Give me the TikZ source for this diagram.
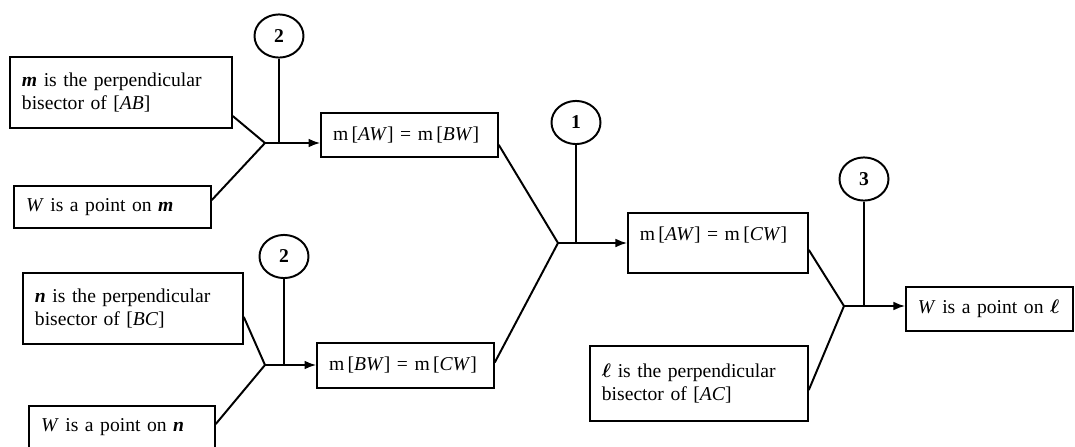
\documentclass[tikz,border=0pt]{standalone}
\usepackage{amsmath}
\usepackage{fontspec}
\setmainfont{Liberation Serif}
\usetikzlibrary{arrows.meta,shapes.geometric}
\begin{document}
\begin{tikzpicture}[x=0.51pt, y=-0.51pt, >={Latex[length=6pt,width=4.5pt]},
    stmt/.style={draw, line width=1pt, align=left, inner xsep=6pt, inner ysep=0pt},
    reason/.style={draw, ellipse, line width=1pt, minimum width=25pt, minimum height=22pt, inner sep=0pt, font=\bfseries},
    link/.style={line width=1pt}]

    % Khung trang
    \useasboundingbox (0,0) rectangle (1075,446);

    % Các mệnh đề bên trái (nhánh trên)
    \node[stmt, text width=101pt, minimum height=36.2pt] (mAB) at (121,92.5)
        {\textbf{\textit{m}} is the perpendicular\\bisector of [\textit{AB}]};
    \node[stmt, text width=88.2pt, minimum height=21.4pt] (Wm) at (112.5,207)
        {\textit{W} is a point on \textbf{\textit{m}}};

    % Các mệnh đề bên trái (nhánh dưới)
    \node[stmt, text width=100pt, minimum height=36.2pt] (nBC) at (133,308.5)
        {\textbf{\textit{n}} is the perpendicular\\bisector of [\textit{BC}]};
    \node[stmt, text width=82.6pt, minimum height=21.4pt] (Wn) at (122,427)
        {\textit{W} is a point on \textbf{\textit{n}}};

    % Kết luận trung gian
    \node[stmt, text width=78pt, minimum height=22.4pt] (AWBW) at (409.5,135)
        {m\,[\textit{AW}] = m\,[\textit{BW}]};
    \node[stmt, text width=78pt, minimum height=23pt] (BWCW) at (405.5,365.5)
        {m\,[\textit{BW}] = m\,[\textit{CW}]};
    \node[stmt, text width=79.6pt, minimum height=30.6pt, text depth=10pt] (AWCW) at (718,243)
        {m\,[\textit{AW}] = m\,[\textit{CW}]};

    % Mệnh đề bên phải và kết luận
    \node[stmt, text width=99pt, minimum height=38.3pt] (lAC) at (699,383.5)
        {$\boldsymbol{\ell}$ is the perpendicular\\bisector of [\textit{AC}]};
    \node[stmt, text width=73pt, minimum height=22.4pt] (Wl) at (989.5,309)
        {\textit{W} is a point on $\boldsymbol{\ell}$};

    % Các vòng tròn lý do
    \node[reason] (c2a) at (279,36) {2};
    \node[reason] (c2b) at (284,256.5) {2};
    \node[reason] (c1) at (576,122.5) {1};
    \node[reason] (c3) at (864,179) {3};

    % Các điểm nối
    \coordinate (j2a) at (265,143);
    \coordinate (j2b) at (265,365);
    \coordinate (j1) at (558,243);
    \coordinate (j3) at (844,306);

    % Nhánh trên
    \draw[link] ([yshift=-12pt]mAB.east) -- (j2a);
    \draw[link] ([yshift=3.5pt]Wm.east) -- (j2a);
    \draw[link, ->] (j2a) -- (j2a -| AWBW.west);
    \draw[link] (c2a.south) -- (c2a.south |- j2a);

    % Nhánh dưới
    \draw[link] ([yshift=-4.3pt]nBC.east) -- (j2b);
    \draw[link] ([yshift=1.5pt]Wn.east) -- (j2b);
    \draw[link, ->] (j2b) -- (j2b -| BWCW.west);
    \draw[link] (c2b.south) -- (c2b.south |- j2b);

    % Hợp hai nhánh
    \draw[link] ([yshift=-5pt]AWBW.east) -- (j1);
    \draw[link] ([yshift=1.5pt]BWCW.east) -- (j1);
    \draw[link, ->] (j1) -- (j1 -| AWCW.west);
    \draw[link] (c1.south) -- (c1.south |- j1);

    % Kết luận cuối
    \draw[link] ([yshift=-3.5pt]AWCW.east) -- (j3);
    \draw[link] ([yshift=-3.3pt]lAC.east) -- (j3);
    \draw[link, ->] (j3) -- (j3 -| Wl.west);
    \draw[link] (c3.south) -- (c3.south |- j3);

\end{tikzpicture}
\end{document}
